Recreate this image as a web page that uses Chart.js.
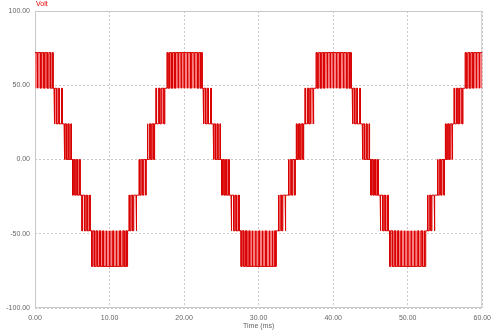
<!DOCTYPE html>
<html>
<head>
<meta charset="utf-8">
<title>Multilevel inverter output voltage</title>
<script src="https://cdn.jsdelivr.net/npm/chart.js@4.4.1/dist/chart.umd.min.js"></script>
<style>
  body { margin: 0; background: #fff; }
  canvas { display: block; }
</style>
</head>
<body>
<canvas id="voltChart" width="497" height="336"></canvas>
<script>
// switching edges: [time (ms), level after the edge (V)]
const cycle1Edges = [
  [0, 72], [0.3, 48], [0.38, 72], [0.75, 48], [0.85, 72], [1.2, 48], [1.32, 72], [1.65, 48], [1.85, 72], [2.1, 48], [2.3, 72], [2.42, 48],
  [2.55, 24], [2.65, 48], [2.9, 24], [3.1, 48], [3.25, 24], [3.55, 48], [3.65, 24],
  [3.9, 0], [4.0, 24], [4.2, 0], [4.4, 24], [4.55, 0], [4.8, 24], [4.88, 0],
  [5.05, -24], [5.15, 0], [5.35, -24], [5.55, 0], [5.7, -24], [5.95, 0], [6.05, -24],
  [6.3, -48], [6.4, -24], [6.65, -48], [6.85, -24], [7.0, -48], [7.3, -24], [7.4, -48],
  [7.6, -72], [7.75, -48], [7.95, -72], [8.2, -48], [8.35, -72], [8.65, -48], [8.75, -72], [9.1, -48], [9.15, -72], [9.55, -48], [9.6, -72], [10.0, -48],
  [10.04, -72], [10.45, -48], [10.5, -72], [10.9, -48], [10.96, -72], [11.35, -48], [11.45, -72], [11.8, -48], [11.95, -72], [12.2, -48], [12.3, -72], [12.42, -48],
  [12.6, -24], [12.7, -48], [12.9, -24], [13.1, -48], [13.25, -24], [13.55, -48], [13.65, -24],
  [13.95, 0], [14.05, -24], [14.25, 0], [14.45, -24], [14.6, 0], [14.85, -24], [14.92, 0],
  [15.05, 24], [15.15, 0], [15.35, 24], [15.55, 0], [15.7, 24], [15.95, 0], [16.05, 24],
  [16.2, 48], [16.3, 24], [16.55, 48], [16.75, 24], [16.95, 48], [17.3, 24], [17.42, 48],
  [17.7, 72], [17.85, 48], [18.05, 72], [18.3, 48], [18.45, 72], [18.75, 48], [18.85, 72], [19.2, 48], [19.25, 72], [19.6, 48], [19.65, 72], [20.0, 48]
];
const cycle2Edges = [
  [20.04, 72], [20.45, 48], [20.5, 72], [20.9, 48], [20.96, 72], [21.35, 48], [21.45, 72], [21.8, 48], [21.95, 72], [22.2, 48], [22.3, 72], [22.42, 48],
  [22.55, 24], [22.65, 48], [22.9, 24], [23.1, 48], [23.25, 24], [23.55, 48], [23.65, 24],
  [23.9, 0], [24.0, 24], [24.2, 0], [24.4, 24], [24.55, 0], [24.8, 24], [24.88, 0],
  [25.05, -24], [25.15, 0], [25.35, -24], [25.55, 0], [25.7, -24], [25.95, 0], [26.05, -24],
  [26.3, -48], [26.4, -24], [26.65, -48], [26.85, -24], [27.0, -48], [27.3, -24], [27.4, -48],
  [27.65, -72], [27.8, -48], [28.0, -72], [28.25, -48], [28.4, -72], [28.7, -48], [28.8, -72], [29.15, -48], [29.2, -72], [29.6, -48], [29.64, -72], [30.05, -48],
  [30.1, -72], [30.5, -48], [30.55, -72], [30.95, -48], [31.0, -72], [31.4, -48], [31.5, -72], [31.8, -48], [31.9, -72], [32.15, -48], [32.25, -72], [32.38, -48],
  [32.6, -24], [32.7, -48], [32.9, -24], [33.1, -48], [33.25, -24], [33.55, -48], [33.65, -24],
  [33.95, 0], [34.05, -24], [34.25, 0], [34.45, -24], [34.6, 0], [34.85, -24], [34.92, 0],
  [35.05, 24], [35.15, 0], [35.35, 24], [35.55, 0], [35.7, 24], [35.95, 0], [36.05, 24],
  [36.2, 48], [36.3, 24], [36.55, 48], [36.75, 24], [36.95, 48], [37.3, 24], [37.42, 48],
  [37.7, 72], [37.85, 48], [38.05, 72], [38.3, 48], [38.45, 72], [38.75, 48], [38.85, 72], [39.2, 48], [39.26, 72], [39.6, 48], [39.65, 72], [40.0, 48]
];
const cycle3Edges = [
  [40.05, 72], [40.45, 48], [40.5, 72], [40.9, 48], [40.96, 72], [41.35, 48], [41.45, 72], [41.8, 48], [41.95, 72], [42.2, 48], [42.3, 72], [42.42, 48],
  [42.55, 24], [42.65, 48], [42.9, 24], [43.1, 48], [43.25, 24], [43.55, 48], [43.65, 24],
  [43.9, 0], [44.0, 24], [44.2, 0], [44.4, 24], [44.55, 0], [44.8, 24], [44.88, 0],
  [45.05, -24], [45.15, 0], [45.35, -24], [45.55, 0], [45.7, -24], [45.95, 0], [46.05, -24],
  [46.3, -48], [46.4, -24], [46.65, -48], [46.85, -24], [47.0, -48], [47.3, -24], [47.4, -48],
  [47.6, -72], [47.75, -48], [47.95, -72], [48.2, -48], [48.35, -72], [48.65, -48], [48.75, -72], [49.1, -48], [49.15, -72], [49.55, -48], [49.6, -72], [50.0, -48],
  [50.04, -72], [50.45, -48], [50.5, -72], [50.9, -48], [50.96, -72], [51.35, -48], [51.45, -72], [51.8, -48], [51.95, -72], [52.2, -48], [52.3, -72], [52.42, -48],
  [52.6, -24], [52.7, -48], [52.9, -24], [53.1, -48], [53.25, -24], [53.55, -48], [53.65, -24],
  [53.95, 0], [54.05, -24], [54.25, 0], [54.45, -24], [54.6, 0], [54.85, -24], [54.92, 0],
  [55.05, 24], [55.15, 0], [55.35, 24], [55.55, 0], [55.7, 24], [55.95, 0], [56.05, 24],
  [56.2, 48], [56.3, 24], [56.55, 48], [56.75, 24], [56.95, 48], [57.3, 24], [57.42, 48],
  [57.7, 72], [57.85, 48], [58.05, 72], [58.3, 48], [58.45, 72], [58.75, 48], [58.85, 72], [59.2, 48], [59.25, 72], [59.6, 48], [59.65, 72], [60, 72]
];

// level the pulses return to in each band (start time, level)
const bandBaseEdges = [
  [0, 48], [2.55, 24], [3.9, 0], [6.05, -24], [7.4, -48], [12.6, -24], [13.95, 0], [16.05, 24], [17.42, 48],
  [22.55, 24], [23.9, 0], [26.05, -24], [27.4, -48], [32.6, -24], [33.95, 0], [36.05, 24], [37.42, 48],
  [42.55, 24], [43.9, 0], [46.05, -24], [47.4, -48], [52.6, -24], [53.95, 0], [56.05, 24], [57.42, 48], [60, 48]
];

const timeTicks = [0, 10, 20, 30, 40, 50, 60];
const voltTicks = [-100, -50, 0, 50, 100];

const pwmEdges = [...cycle1Edges, ...cycle2Edges, ...cycle3Edges];

// square-wave vertices: each edge becomes a vertical jump at its time
function toVertices(edges) {
  const pts = [];
  edges.forEach(([t, v], i) => {
    if (i > 0) pts.push({ x: t, y: edges[i - 1][1] });
    pts.push({ x: t, y: v });
  });
  return pts;
}

function baseAt(t) {
  let base = bandBaseEdges[0][1];
  for (const [bt, bv] of bandBaseEdges) {
    if (bt <= t) base = bv;
    else break;
  }
  return base;
}

// time spans where the output sits on the outer level of its band
const pulseSpans = [];
pwmEdges.forEach(([t, v], i) => {
  const next = i + 1 < pwmEdges.length ? pwmEdges[i + 1][0] : t;
  const cuts = [t, ...bandBaseEdges.map((e) => e[0]).filter((bt) => bt > t && bt < next), next];
  for (let k = 0; k < cuts.length - 1; k++) {
    const base = baseAt(cuts[k]);
    if (base !== v) pulseSpans.push({ from: cuts[k], to: cuts[k + 1], base, level: v });
  }
});

const axisFont = { family: "'Liberation Sans', Arial, sans-serif", size: 7 };
const gridColor = "#c8c8c8";

// box round the plot area, pulse shading and the "Volt" label
const frame = {
  id: "frame",
  beforeDatasetsDraw(chart) {
    const { ctx, chartArea: a, scales } = chart;
    ctx.save();
    ctx.strokeStyle = gridColor;
    ctx.lineWidth = 1;
    ctx.strokeRect(a.left + 0.5, a.top + 0.5, a.right - a.left - 1, a.bottom - a.top - 1);
    ctx.fillStyle = "rgba(245, 95, 95, 0.8)";
    pulseSpans.forEach((p) => {
      const x0 = scales.x.getPixelForValue(p.from);
      const x1 = scales.x.getPixelForValue(p.to);
      const y0 = scales.y.getPixelForValue(p.base);
      const y1 = scales.y.getPixelForValue(p.level);
      ctx.fillRect(x0, Math.min(y0, y1), x1 - x0, Math.abs(y1 - y0));
    });
    ctx.restore();
  },
  afterDraw(chart) {
    const { ctx, chartArea: a } = chart;
    ctx.save();
    ctx.fillStyle = "#e00000";
    ctx.font = "7px 'Liberation Sans', Arial, sans-serif";
    ctx.textBaseline = "middle";
    ctx.fillText("Volt", a.left + 1, 4);
    ctx.restore();
  },
};

new Chart(document.getElementById("voltChart"), {
  type: "line",
  data: {
    datasets: [
      {
        label: "Volt",
        data: toVertices(pwmEdges),
        borderColor: "#d80000",
        borderWidth: 1,
        fill: false,
        pointRadius: 0,
      },
    ],
  },
  options: {
    responsive: false,
    animation: false,
    layout: { padding: { left: 0, right: 5, top: 11, bottom: 0 } },
    plugins: {
      legend: { display: false },
      tooltip: { enabled: false },
    },
    scales: {
      x: {
        type: "linear",
        min: 0,
        max: 60,
        afterBuildTicks: (scale) => {
          scale.ticks = timeTicks.map((v) => ({ value: v }));
        },
        afterFit: (scale) => {
          scale.height = 28;
        },
        ticks: {
          font: axisFont,
          color: "#666",
          padding: 6,
          maxRotation: 0,
          callback: (v) => Number(v).toFixed(2),
        },
        grid: { color: gridColor, drawTicks: false },
        border: { display: false, dash: [2, 2] },
        title: {
          display: true,
          text: "Time (ms)",
          font: axisFont,
          color: "#666",
          padding: { top: 0, bottom: 6 },
        },
      },
      y: {
        min: -100,
        max: 100,
        afterBuildTicks: (scale) => {
          scale.ticks = voltTicks.map((v) => ({ value: v }));
        },
        afterFit: (scale) => {
          scale.width = 35;
        },
        ticks: {
          font: axisFont,
          color: "#666",
          padding: 5,
          callback: (v) => Number(v).toFixed(2),
        },
        grid: { color: gridColor, drawTicks: false },
        border: { display: false, dash: [2, 2] },
      },
    },
  },
  plugins: [frame],
});
</script>
</body>
</html>
